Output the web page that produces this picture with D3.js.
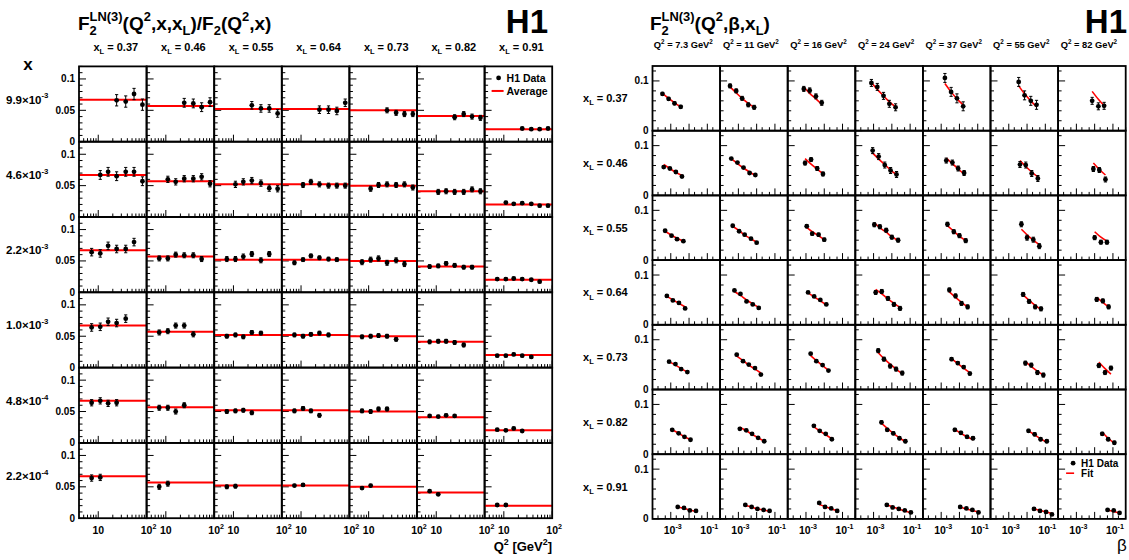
<!DOCTYPE html>
<html>
<head>
<meta charset="utf-8">
<script src="https://cdn.jsdelivr.net/npm/d3@7"></script>
<style>
  body { margin: 0; background: #fff; }
  text { font-family: "Liberation Sans", Arial, Helvetica, sans-serif; font-weight: bold; fill: #000; white-space: pre; }
</style>
</head>
<body>
<svg id="chart" width="1129" height="560"></svg>
<script>
// ---------- left panel: F2LN(3)/F2 ratio vs Q2 ----------
const qSquared = [7.3, 11, 16, 24, 37, 55, 82];
const xLValues = ["0.37", "0.46", "0.55", "0.64", "0.73", "0.82", "0.91"];
const xRowMant = ["9.9", "4.6", "2.2", "1.0", "4.8", "2.2"];
const xRowExp = ["-3", "-3", "-3", "-3", "-4", "-4"];
// index into qSquared of the first measured point in each x row
const ratioFirstQ = [3, 1, 0, 0, 0, 0];
const averages = [0.067, 0.057, 0.052, 0.052, 0.050, 0.041, 0.020];

const ratio = [
  [[0.066, 0.064, 0.076, 0.059], [0.062, 0.061, 0.055, 0.063], [0.058, 0.053, 0.053, 0.045],
   [0.051, 0.051, 0.049, 0.062], [0.050, 0.046, 0.044, 0.044], [0.039, 0.044, 0.040, 0.038],
   [0.021, 0.020, 0.020, 0.021]],
  [[0.067, 0.072, 0.065, 0.072, 0.072, 0.057], [0.060, 0.056, 0.061, 0.061, 0.064, 0.053],
   [0.052, 0.056, 0.058, 0.054, 0.046, 0.045], [0.051, 0.056, 0.052, 0.050, 0.050, 0.050],
   [0.045, 0.051, 0.052, 0.051, 0.052, 0.047], [0.040, 0.041, 0.040, 0.040, 0.044, 0.041],
   [0.023, 0.021, 0.022, 0.021, 0.018, 0.018]],
  [[0.064, 0.062, 0.074, 0.069, 0.069, 0.080], [0.054, 0.054, 0.060, 0.059, 0.059, 0.053],
   [0.053, 0.053, 0.057, 0.061, 0.051, 0.061], [0.047, 0.052, 0.058, 0.055, 0.053, 0.052],
   [0.048, 0.052, 0.054, 0.047, 0.051, 0.045], [0.041, 0.042, 0.046, 0.043, 0.040, 0.040],
   [0.021, 0.021, 0.022, 0.021, 0.020, 0.017]],
  [[0.064, 0.065, 0.073, 0.071, 0.078], [0.056, 0.058, 0.067, 0.067, 0.053],
   [0.050, 0.052, 0.049, 0.056, 0.055], [0.052, 0.050, 0.053, 0.055, 0.052],
   [0.049, 0.050, 0.051, 0.050, 0.045], [0.041, 0.042, 0.042, 0.040, 0.036],
   [0.019, 0.019, 0.021, 0.019, 0.017]],
  [[0.064, 0.067, 0.063, 0.064], [0.056, 0.056, 0.050, 0.060], [0.050, 0.051, 0.052, 0.048],
   [0.051, 0.055, 0.051, 0.044], [0.051, 0.050, 0.054, 0.054], [0.043, 0.042, 0.044, 0.043],
   [0.021, 0.020, 0.023, 0.019]],
  [[0.064, 0.065], [0.050, 0.055], [0.050, 0.051], [0.052, 0.053], [0.048, 0.052],
   [0.043, 0.038], [0.021, 0.021]]
];
const ratioErr = [
  [0.009, 0.007, 0.006, 0.006, 0.004, 0.004, 0.002],
  [0.007, 0.005, 0.005, 0.004, 0.004, 0.004, 0.002],
  [0.006, 0.004, 0.004, 0.003, 0.004, 0.003, 0.002],
  [0.006, 0.004, 0.003, 0.003, 0.003, 0.003, 0.002],
  [0.005, 0.004, 0.003, 0.003, 0.003, 0.002, 0.002],
  [0.005, 0.004, 0.003, 0.002, 0.002, 0.002, 0.002]
];

// ---------- right panel: F2LN(3) vs beta ----------
const q2Labels = ["7.3", "11", "16", "24", "37", "55", "82"];
// first beta bin (column of betaBins) used by each Q2 column
const betaFirstBin = [0, 0, 1, 1, 2, 3, 4];
const betaBins = [
  [3.5e-4, 7.6e-4, 1.6e-3, 3.5e-3, 7.3e-3, 1.6e-2, 3.3e-2],
  [4.1e-4, 8.9e-4, 1.9e-3, 4.1e-3, 8.5e-3, 1.8e-2, 3.9e-2],
  [4.9e-4, 1.1e-3, 2.2e-3, 4.9e-3, 1.0e-2, 2.2e-2, 4.7e-2],
  [6.1e-4, 1.3e-3, 2.8e-3, 6.1e-3, 1.3e-2, 2.8e-2, 5.8e-2],
  [8.1e-4, 1.8e-3, 3.7e-3, 8.1e-3, 1.7e-2, 3.7e-2, 7.8e-2],
  [1.2e-3, 2.7e-3, 5.6e-3, 1.2e-2, 2.6e-2, 5.5e-2, 1.2e-1],
  [2.4e-3, 5.3e-3, 1.1e-2, 2.4e-2, 5.1e-2, 1.1e-1, 2.3e-1]
];
const f2ln = [
  [[0.074, 0.064, 0.055, 0.048], [0.090, 0.080, 0.065, 0.052, 0.047], [0.084, 0.081, 0.069, 0.056],
   [0.096, 0.088, 0.070, 0.054, 0.047], [0.106, 0.078, 0.065, 0.049], [0.098, 0.071, 0.060, 0.052],
   [0.060, 0.049, 0.050]],
  [[0.057, 0.054, 0.047, 0.038], [0.074, 0.066, 0.056, 0.045, 0.041], [0.065, 0.072, 0.054, 0.043],
   [0.090, 0.078, 0.061, 0.050, 0.042], [0.070, 0.066, 0.054, 0.045], [0.062, 0.061, 0.044, 0.034],
   [0.053, 0.051, 0.032]],
  [[0.059, 0.049, 0.042, 0.038], [0.069, 0.058, 0.051, 0.043, 0.035], [0.068, 0.053, 0.051, 0.041],
   [0.071, 0.067, 0.060, 0.046, 0.040], [0.072, 0.057, 0.049, 0.039], [0.072, 0.045, 0.041, 0.028],
   [0.045, 0.036, 0.036]],
  [[0.058, 0.049, 0.044, 0.033], [0.069, 0.062, 0.047, 0.041, 0.034], [0.065, 0.057, 0.050, 0.041],
   [0.065, 0.067, 0.053, 0.041, 0.033], [0.070, 0.058, 0.043, 0.036], [0.061, 0.047, 0.036, 0.032],
   [0.051, 0.048, 0.036]],
  [[0.056, 0.051, 0.041, 0.035], [0.070, 0.057, 0.050, 0.043, 0.030], [0.072, 0.057, 0.049, 0.038],
   [0.078, 0.061, 0.047, 0.041, 0.033], [0.061, 0.053, 0.045, 0.032], [0.053, 0.049, 0.034, 0.029],
   [0.048, 0.034, 0.043]],
  [[0.049, 0.042, 0.035, 0.029], [0.051, 0.048, 0.041, 0.033, 0.026], [0.057, 0.047, 0.041, 0.030],
   [0.064, 0.049, 0.042, 0.032, 0.026], [0.049, 0.043, 0.035, 0.032], [0.047, 0.040, 0.030, 0.026],
   [0.041, 0.030, 0.023]],
  [[0.024, 0.022, 0.017, 0.016], [0.028, 0.024, 0.020, 0.018, 0.016], [0.032, 0.024, 0.021, 0.016],
   [0.028, 0.023, 0.020, 0.017, 0.013], [0.024, 0.021, 0.018, 0.013], [0.020, 0.016, 0.014, 0.009],
   [0.018, 0.017, 0.012]]
];
const f2lnFit = [
  [[0.075, 0.065, 0.056, 0.048], [0.088, 0.076, 0.065, 0.055, 0.047], [0.088, 0.075, 0.064, 0.053],
   [0.097, 0.083, 0.070, 0.058, 0.048], [0.095, 0.078, 0.064, 0.052], [0.090, 0.074, 0.060, 0.048],
   [0.079, 0.063, 0.050]],
  [[0.062, 0.054, 0.046, 0.040], [0.074, 0.064, 0.055, 0.047, 0.040], [0.074, 0.063, 0.053, 0.044],
   [0.085, 0.073, 0.062, 0.051, 0.042], [0.075, 0.064, 0.053, 0.043], [0.070, 0.058, 0.047, 0.037],
   [0.065, 0.052, 0.041]],
  [[0.058, 0.050, 0.044, 0.038], [0.068, 0.059, 0.050, 0.043, 0.036], [0.066, 0.057, 0.049, 0.041],
   [0.075, 0.065, 0.056, 0.047, 0.039], [0.069, 0.058, 0.048, 0.039], [0.062, 0.051, 0.040, 0.031],
   [0.057, 0.046, 0.038]],
  [[0.057, 0.050, 0.043, 0.036], [0.067, 0.059, 0.050, 0.042, 0.035], [0.064, 0.056, 0.048, 0.040],
   [0.071, 0.062, 0.052, 0.043, 0.035], [0.066, 0.055, 0.045, 0.036], [0.060, 0.049, 0.039, 0.031],
   [0.055, 0.045, 0.036]],
  [[0.056, 0.049, 0.042, 0.035], [0.067, 0.058, 0.049, 0.041, 0.033], [0.068, 0.058, 0.048, 0.039],
   [0.074, 0.062, 0.051, 0.041, 0.032], [0.062, 0.052, 0.043, 0.034], [0.056, 0.046, 0.037, 0.029],
   [0.055, 0.042, 0.031]],
  [[0.049, 0.042, 0.035, 0.029], [0.054, 0.047, 0.040, 0.033, 0.026], [0.055, 0.047, 0.039, 0.031],
   [0.062, 0.052, 0.042, 0.033, 0.025], [0.050, 0.042, 0.035, 0.029], [0.047, 0.039, 0.031, 0.024],
   [0.044, 0.032, 0.022]],
  [[0.024, 0.021, 0.018, 0.015], [0.027, 0.024, 0.020, 0.018, 0.015], [0.029, 0.025, 0.020, 0.017],
   [0.028, 0.024, 0.020, 0.016, 0.013], [0.024, 0.020, 0.017, 0.014], [0.020, 0.017, 0.014, 0.011],
   [0.018, 0.015, 0.012]]
];
const f2lnErr = [
  [0.003, 0.004, 0.005, 0.007, 0.009, 0.009, 0.007],
  [0.002, 0.002, 0.004, 0.006, 0.005, 0.006, 0.005],
  [0.002, 0.002, 0.003, 0.004, 0.004, 0.005, 0.004],
  [0.002, 0.002, 0.002, 0.004, 0.004, 0.004, 0.004],
  [0.002, 0.002, 0.002, 0.004, 0.003, 0.004, 0.004],
  [0.002, 0.002, 0.002, 0.003, 0.003, 0.003, 0.003],
  [0.001, 0.001, 0.002, 0.002, 0.002, 0.002, 0.002]
];

const svg = d3.select("#chart");
svg.append("rect").attr("width", 1129).attr("height", 560).attr("fill", "#fff");

// text with ROOT-like sub/superscripts, pieces laid out by measuring
function rich(parent, x, y, size, parts, anchor) {
  const g = parent.append("g");
  let cx = 0;
  parts.forEach((p) => {
    if (typeof p === "string") p = { t: p };
    let w = 0;
    if (p.t != null) {
      const e = g.append("text").attr("x", cx).attr("y", 0).style("font-size", size + "px").text(p.t);
      w = e.node().getComputedTextLength();
    }
    if (p.sup != null) {
      const e = g.append("text").attr("x", cx).attr("y", -size * 0.45)
        .style("font-size", size * 0.68 + "px").text(p.sup);
      w = Math.max(w, e.node().getComputedTextLength());
    }
    if (p.sub != null) {
      const e = g.append("text").attr("x", cx).attr("y", size * 0.28)
        .style("font-size", size * 0.68 + "px").text(p.sub);
      w = Math.max(w, e.node().getComputedTextLength());
    }
    cx += w;
  });
  const dx = anchor === "middle" ? -cx / 2 : anchor === "end" ? -cx : 0;
  g.attr("transform", `translate(${x + dx},${y})`);
  return g;
}

function errorBar(g, x, y0, y1, yc) {
  g.append("path")
    .attr("d", `M${x},${y0}V${y1}M${x - 1.6},${y0}H${x + 1.6}M${x - 1.6},${y1}H${x + 1.6}`)
    .attr("stroke", "#000").attr("stroke-width", 1).attr("fill", "none");
  g.append("circle").attr("cx", x).attr("cy", yc).attr("r", 2.4).attr("fill", "#000");
}

// ================= LEFT PANEL =================
const L = { x0: 79, y0: 66.4, w: 67.6, h: 75.3 };
const xL = d3.scaleLog().domain([4, 100]).range([0, L.w]);
const yL = d3.scaleLinear().domain([0, 0.12]).range([L.h, 0]);
const left = svg.append("g");

const qTicks = [5, 6, 7, 8, 9, 10, 20, 30, 40, 50, 60, 70, 80, 90, 100];
const rTicks = d3.range(0, 0.1201, 0.01);

ratio.forEach((row, r) => {
  row.forEach((vals, c) => {
    const g = left.append("g")
      .attr("transform", `translate(${L.x0 + c * L.w},${L.y0 + r * L.h})`);
    g.selectAll(".yt").data(rTicks).join("line")
      .attr("x1", 0).attr("x2", (d) => (Math.round(d * 100) % 5 === 0 ? 7 : 3.5))
      .attr("y1", (d) => yL(d)).attr("y2", (d) => yL(d))
      .attr("stroke", "#000").attr("stroke-width", 1);
    g.selectAll(".xt").data(qTicks).join("line")
      .attr("x1", (d) => xL(d)).attr("x2", (d) => xL(d))
      .attr("y1", L.h).attr("y2", (d) => L.h - (d === 10 || d === 100 ? 7 : 3.5))
      .attr("stroke", "#000").attr("stroke-width", 1);
    g.append("line")
      .attr("x1", 0).attr("x2", L.w)
      .attr("y1", yL(averages[c])).attr("y2", yL(averages[c]))
      .attr("stroke", "#ff0000").attr("stroke-width", 2);
    const e = ratioErr[r][c];
    vals.forEach((v, i) => {
      const q = qSquared[ratioFirstQ[r] + i];
      errorBar(g, xL(q), yL(v - e), yL(v + e), yL(v));
    });
    g.append("rect").attr("width", L.w).attr("height", L.h)
      .attr("fill", "none").attr("stroke", "#000").attr("stroke-width", 1.8);
  });
  const top = L.y0 + r * L.h;
  [[0.1, "0.1"], [0.05, "0.05"], [0, "0"]].forEach(([v, s]) => {
    left.append("text").attr("x", L.x0 - 4).attr("y", top + yL(v)).attr("dy", "0.35em")
      .attr("text-anchor", "end").style("font-size", "10px").text(s);
  });
  rich(left, 6, top + L.h * 0.44 + 4, 11.5, [xRowMant[r] + "\u00d710", { sup: xRowExp[r] }], "start");
});

xLValues.forEach((v, c) => {
  const cx = L.x0 + c * L.w;
  rich(left, cx + L.w / 2 + 3, 51, 11, ["x", { sub: "L" }, " = " + v], "middle");
  rich(left, cx + xL(10), 534, 10.5, ["10"], "middle");
  rich(left, cx + L.w + 2, 534, 10.5, ["10", { sup: "2" }], "middle");
});

rich(left, 78, 30, 19, ["F", { sup: "LN(3)", sub: "2" }, "(Q", { sup: "2" }, ",x,x", { sub: "L" },
  ")/F", { sub: "2" }, "(Q", { sup: "2" }, ",x)"], "start");
left.append("text").attr("x", 548).attr("y", 33).attr("text-anchor", "end")
  .style("font-size", "33px").text("H1");
left.append("text").attr("x", 28).attr("y", 70).attr("text-anchor", "middle")
  .style("font-size", "17px").text("x");
rich(left, 552, 551, 13, ["Q", { sup: "2" }, " [GeV", { sup: "2" }, "]"], "end");

// legend (top right cell)
{
  const lx = L.x0 + 6 * L.w;
  const ly = L.y0 + yL(0.1) - 1;
  left.append("circle").attr("cx", lx + 14).attr("cy", ly).attr("r", 2.4).attr("fill", "#000");
  left.append("text").attr("x", lx + 22).attr("y", ly).attr("dy", "0.35em")
    .style("font-size", "10.5px").text("H1 Data");
  left.append("line").attr("x1", lx + 7).attr("x2", lx + 19).attr("y1", ly + 13).attr("y2", ly + 13)
    .attr("stroke", "#ff0000").attr("stroke-width", 2);
  left.append("text").attr("x", lx + 22).attr("y", ly + 13).attr("dy", "0.35em")
    .style("font-size", "10.5px").text("Average");
}

// ================= RIGHT PANEL =================
const R = { x0: 652.5, y0: 66, w: 67.6, h: 64.7 };
const xR = d3.scaleLog().domain([1e-4, 0.5]).range([0, R.w]);
const yR = d3.scaleLinear().domain([0, 0.13]).range([R.h, 0]);
const right = svg.append("g");
const bTicks = [2e-4, 5e-4, 1e-3, 2e-3, 5e-3, 1e-2, 2e-2, 5e-2, 1e-1, 2e-1, 5e-1];
const fTicks = d3.range(0, 0.1201, 0.02);
const fitLine = d3.line().x((d) => xR(d[0])).y((d) => yR(d[1])).curve(d3.curveMonotoneX);

f2ln.forEach((row, r) => {
  row.forEach((vals, c) => {
    const g = right.append("g")
      .attr("transform", `translate(${R.x0 + c * R.w},${R.y0 + r * R.h})`);
    g.selectAll(".yt").data(fTicks).join("line")
      .attr("x1", 0).attr("x2", (d) => (Math.abs(d - 0.1) < 1e-6 || d === 0 ? 7 : 3.5))
      .attr("y1", (d) => yR(d)).attr("y2", (d) => yR(d))
      .attr("stroke", "#000").attr("stroke-width", 1);
    g.selectAll(".xt").data(bTicks).join("line")
      .attr("x1", (d) => xR(d)).attr("x2", (d) => xR(d))
      .attr("y1", R.h)
      .attr("y2", (d) => R.h - (Math.abs(Math.log10(d) % 1) < 1e-6 ? 7 : 3.5))
      .attr("stroke", "#000").attr("stroke-width", 1);
    const betas = vals.map((v, i) => betaBins[r][betaFirstBin[c] + i]);
    g.append("path")
      .attr("d", fitLine(f2lnFit[r][c].map((f, i) => [betas[i], f])))
      .attr("fill", "none").attr("stroke", "#ff0000").attr("stroke-width", 1.6);
    const e = f2lnErr[r][c];
    vals.forEach((v, i) => errorBar(g, xR(betas[i]), yR(v - e), yR(v + e), yR(v)));
    g.append("rect").attr("width", R.w).attr("height", R.h)
      .attr("fill", "none").attr("stroke", "#000").attr("stroke-width", 1.8);
  });
  const top = R.y0 + r * R.h;
  [[0.1, "0.1"], [0, "0"]].forEach(([v, s]) => {
    right.append("text").attr("x", R.x0 - 4).attr("y", top + yR(v)).attr("dy", "0.35em")
      .attr("text-anchor", "end").style("font-size", "10px").text(s);
  });
  rich(right, 583, top + R.h / 2 + 4, 11, ["x", { sub: "L" }, " = " + xLValues[r]], "start");
});

q2Labels.forEach((q, c) => {
  const cx = R.x0 + c * R.w;
  rich(right, cx + R.w / 2 - 3, 48, 9.3, ["Q", { sup: "2" }, " = " + q + " GeV", { sup: "2" }], "middle");
  rich(right, cx + xR(1e-3) + 2, 534, 10.5, ["10", { sup: "-3" }], "middle");
  rich(right, cx + xR(1e-1) + 2, 534, 10.5, ["10", { sup: "-1" }], "middle");
});

rich(right, 650, 30, 19, ["F", { sup: "LN(3)", sub: "2" }, "(Q", { sup: "2" }, ",\u03b2,x", { sub: "L" }, ")"], "start");
right.append("text").attr("x", 1127).attr("y", 33).attr("text-anchor", "end")
  .style("font-size", "33px").text("H1");
right.append("text").attr("x", 1122).attr("y", 551).attr("text-anchor", "middle")
  .style("font-size", "17px").style("font-weight", "normal").text("\u03b2");

// legend (bottom right cell)
{
  const lx = R.x0 + 6 * R.w;
  const ly = R.y0 + 6 * R.h + 9;
  right.append("circle").attr("cx", lx + 15).attr("cy", ly).attr("r", 2.4).attr("fill", "#000");
  right.append("text").attr("x", lx + 23).attr("y", ly).attr("dy", "0.35em")
    .style("font-size", "10px").text("H1 Data");
  right.append("line").attr("x1", lx + 8).attr("x2", lx + 16).attr("y1", ly + 10).attr("y2", ly + 10)
    .attr("stroke", "#ff0000").attr("stroke-width", 1.6);
  right.append("text").attr("x", lx + 23).attr("y", ly + 10).attr("dy", "0.35em")
    .style("font-size", "10px").text("Fit");
}
</script>
</body>
</html>
